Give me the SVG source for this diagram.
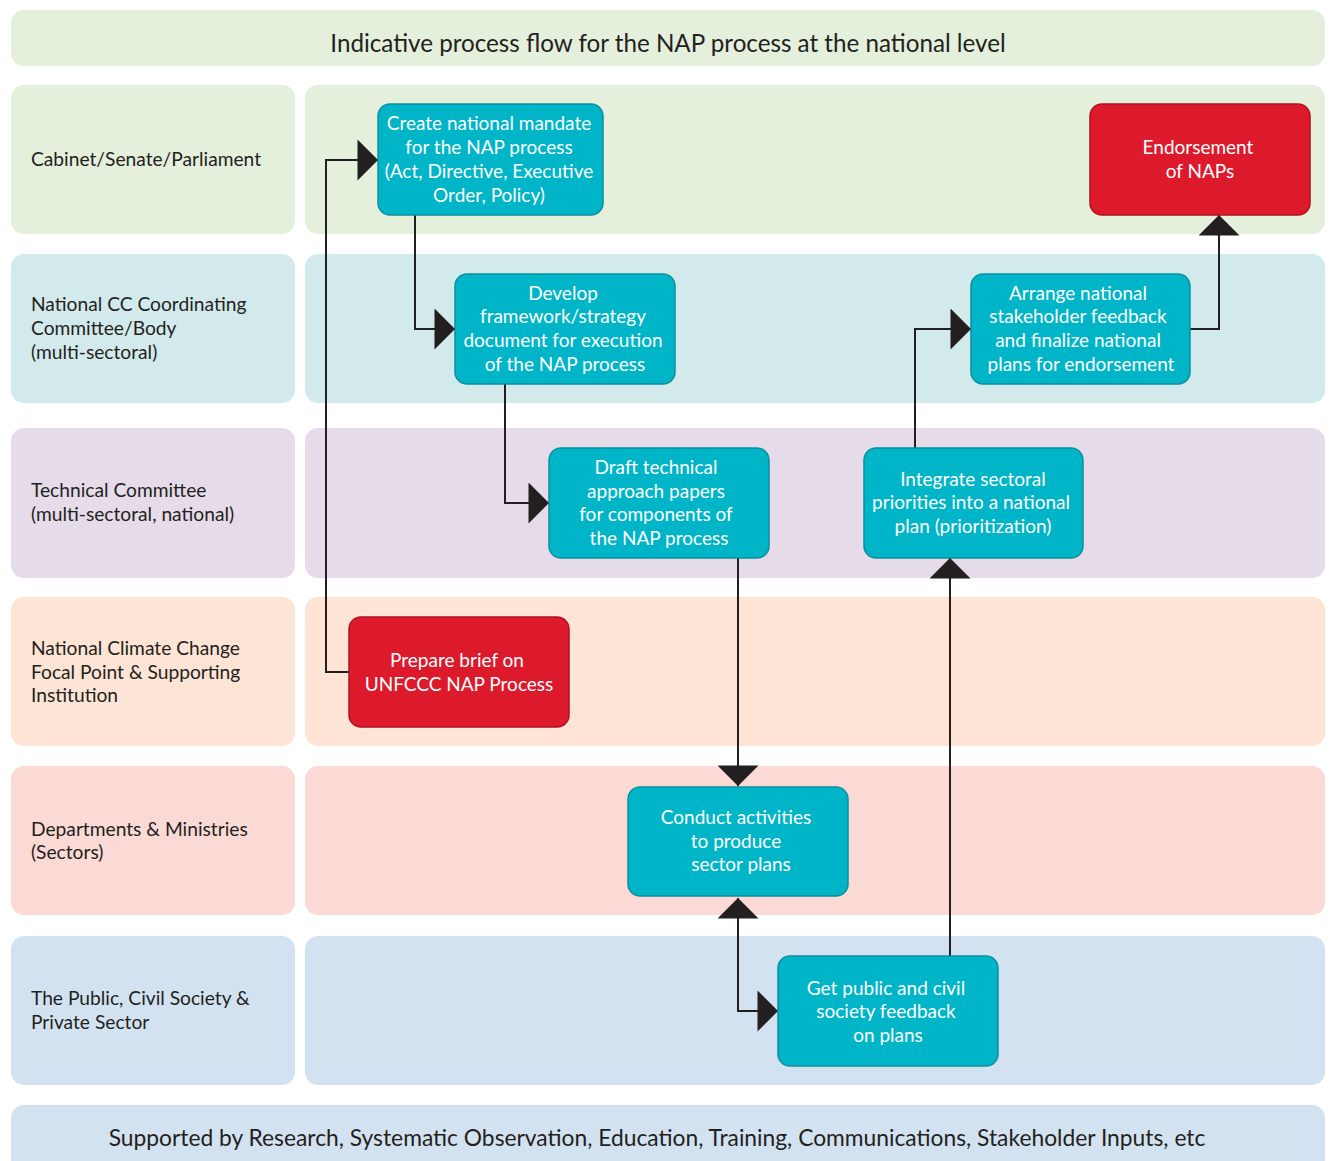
<svg xmlns="http://www.w3.org/2000/svg" width="1332" height="1161" viewBox="0 0 1332 1161">
<style>
.lane{stroke:none}
.lbl{font-family:Lato,"Open Sans",sans-serif;font-size:19.2px;fill:#231f20}
.hdr{font-family:Lato,"Open Sans",sans-serif;fill:#231f20;text-anchor:middle}
.teal{fill:#00b5c8;stroke:#0d8f9e;stroke-width:1.5}
.red{fill:#dc1a2b;stroke:#b0111f;stroke-width:1.5}
.nt{font-family:Lato,"Open Sans",sans-serif;font-size:19px;fill:#ffffff;text-anchor:middle}
.con{fill:none;stroke:#231f20;stroke-width:2}
</style>
<defs>
<marker id="ah" markerUnits="userSpaceOnUse" markerWidth="21" markerHeight="41" viewBox="0 0 20 40" refX="20" refY="20" orient="auto-start-reverse">
<path d="M0,0 L20,20 L0,40 Z" fill="#231f20"/>
</marker>
</defs>
<rect width="1332" height="1161" fill="#ffffff"/>
<g id="title">
<rect x="11" y="10" width="1314" height="56" rx="13" fill="#e4efdc"/>
<text class="hdr" x="668" y="52" font-size="24.2">Indicative process flow for the NAP process at the national level</text>
</g>
<g id="lanes">
<rect class="lane" x="11" y="85" width="284" height="149" rx="13" fill="#e4efdc"/>
<rect class="lane" x="305" y="85" width="1020" height="149" rx="13" fill="#e4efdc"/>
<rect class="lane" x="11" y="254" width="284" height="149" rx="13" fill="#d3eaec"/>
<rect class="lane" x="305" y="254" width="1020" height="149" rx="13" fill="#d3eaec"/>
<rect class="lane" x="11" y="428" width="284" height="150" rx="13" fill="#e5dbe9"/>
<rect class="lane" x="305" y="428" width="1020" height="150" rx="13" fill="#e5dbe9"/>
<rect class="lane" x="11" y="597" width="284" height="149" rx="13" fill="#fde4d5"/>
<rect class="lane" x="305" y="597" width="1020" height="149" rx="13" fill="#fde4d5"/>
<rect class="lane" x="11" y="766" width="284" height="149" rx="13" fill="#fbd9d5"/>
<rect class="lane" x="305" y="766" width="1020" height="149" rx="13" fill="#fbd9d5"/>
<rect class="lane" x="11" y="936" width="284" height="149" rx="13" fill="#d3e2f0"/>
<rect class="lane" x="305" y="936" width="1020" height="149" rx="13" fill="#d3e2f0"/>
<text class="lbl" x="31" y="166">Cabinet/Senate/Parliament</text>
<text class="lbl" x="31" y="311">National CC Coordinating</text>
<text class="lbl" x="31" y="335">Committee/Body</text>
<text class="lbl" x="31" y="359">(multi-sectoral)</text>
<text class="lbl" x="31" y="497">Technical Committee</text>
<text class="lbl" x="31" y="521">(multi-sectoral, national)</text>
<text class="lbl" x="31" y="655">National Climate Change</text>
<text class="lbl" x="31" y="679">Focal Point &amp; Supporting</text>
<text class="lbl" x="31" y="702">Institution</text>
<text class="lbl" x="31" y="836">Departments &amp; Ministries</text>
<text class="lbl" x="31" y="859">(Sectors)</text>
<text class="lbl" x="31" y="1005">The Public, Civil Society &amp;</text>
<text class="lbl" x="31" y="1029">Private Sector</text>
</g>
<g id="footer">
<rect x="11" y="1105" width="1314" height="80" rx="13" fill="#d3e2f0"/>
<text class="hdr" x="657" y="1146" font-size="22.8">Supported by Research, Systematic Observation, Education, Training, Communications, Stakeholder Inputs, etc</text>
</g>
<g id="connectors">
<path class="con" d="M349,672 H326 V160 H378" marker-end="url(#ah)"/>
<path class="con" d="M415,215 V329 H455" marker-end="url(#ah)"/>
<path class="con" d="M505,384 V503 H549" marker-end="url(#ah)"/>
<path class="con" d="M738,558 V786" marker-end="url(#ah)"/>
<path class="con" d="M778,1011 H738 V898" marker-start="url(#ah)" marker-end="url(#ah)"/>
<path class="con" d="M950,956 V558" marker-end="url(#ah)"/>
<path class="con" d="M915,448 V329 H971" marker-end="url(#ah)"/>
<path class="con" d="M1190,329 H1219 V215" marker-end="url(#ah)"/>
</g>
<g id="n-mandate">
<rect class="teal" x="378" y="104" width="225" height="111" rx="12"/>
<text class="nt" x="489" y="130">Create national mandate</text>
<text class="nt" x="489" y="154">for the NAP process</text>
<text class="nt" x="489" y="178">(Act, Directive, Executive</text>
<text class="nt" x="489" y="202">Order, Policy)</text>
</g>
<g id="n-endorse">
<rect class="red" x="1090" y="104" width="220" height="111" rx="12"/>
<text class="nt" x="1198" y="154">Endorsement</text>
<text class="nt" x="1200" y="178">of NAPs</text>
</g>
<g id="n-develop">
<rect class="teal" x="455" y="274" width="220" height="110" rx="12"/>
<text class="nt" x="563" y="300">Develop</text>
<text class="nt" x="563" y="323">framework/strategy</text>
<text class="nt" x="563" y="347">document for execution</text>
<text class="nt" x="565" y="371">of the NAP process</text>
</g>
<g id="n-arrange">
<rect class="teal" x="971" y="274" width="219" height="110" rx="12"/>
<text class="nt" x="1078" y="300">Arrange national</text>
<text class="nt" x="1078" y="323">stakeholder feedback</text>
<text class="nt" x="1078" y="347">and finalize national</text>
<text class="nt" x="1081" y="371">plans for endorsement</text>
</g>
<g id="n-draft">
<rect class="teal" x="549" y="448" width="220" height="110" rx="12"/>
<text class="nt" x="656" y="474">Draft technical</text>
<text class="nt" x="656" y="498">approach papers</text>
<text class="nt" x="656" y="521">for components of</text>
<text class="nt" x="659" y="545">the NAP process</text>
</g>
<g id="n-integrate">
<rect class="teal" x="864" y="448" width="219" height="110" rx="12"/>
<text class="nt" x="973" y="486">Integrate sectoral</text>
<text class="nt" x="971" y="509">priorities into a national</text>
<text class="nt" x="973" y="533">plan (prioritization)</text>
</g>
<g id="n-prepare">
<rect class="red" x="349" y="617" width="220" height="110" rx="12"/>
<text class="nt" x="457" y="667">Prepare brief on</text>
<text class="nt" x="459" y="691">UNFCCC NAP Process</text>
</g>
<g id="n-conduct">
<rect class="teal" x="628" y="787" width="220" height="109" rx="12"/>
<text class="nt" x="736" y="824">Conduct activities</text>
<text class="nt" x="736" y="848">to produce</text>
<text class="nt" x="741" y="871">sector plans</text>
</g>
<g id="n-public">
<rect class="teal" x="778" y="956" width="220" height="110" rx="12"/>
<text class="nt" x="886" y="995">Get public and civil</text>
<text class="nt" x="886" y="1018">society feedback</text>
<text class="nt" x="888" y="1042">on plans</text>
</g>
</svg>
